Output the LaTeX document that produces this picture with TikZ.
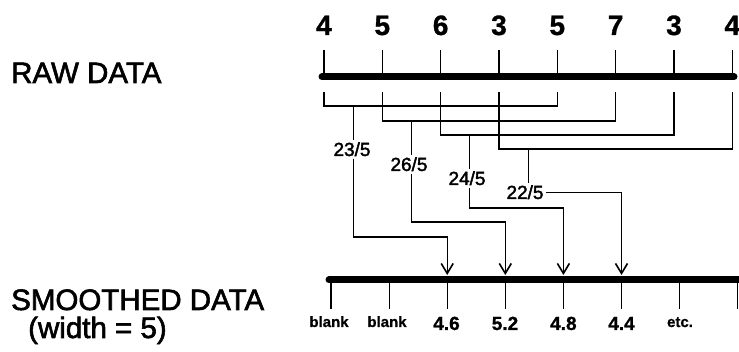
\documentclass[tikz,border=0pt]{standalone}
\usepackage{fontspec}
\setmainfont{Liberation Sans}
\newfontfamily\scanfont[FakeBold=2]{Liberation Sans}
\newfontfamily\scanbold[FakeBold=1]{Liberation Sans Bold}
\usetikzlibrary{arrows.meta}
\begin{document}
\begin{tikzpicture}[x=1pt,y=-1pt,
  thinline/.style={line width=1.2pt},
  axisline/.style={line width=7pt, line cap=round},
  arr/.style={thinline, -{Straight Barb[length=10pt,width=12pt,line width=1.6pt]}, shorten >=5pt},
  bigtitle/.style={font=\scanfont\fontsize{29.5}{31}\selectfont, anchor=base west, inner sep=0pt},
  rawnum/.style={font=\scanbold\fontsize{28}{30}\selectfont, anchor=base, inner sep=0pt},
  fracl/.style={font=\scanfont\fontsize{19}{21}\selectfont, inner sep=2.5pt},
  outnum/.style={font=\scanbold\fontsize{19}{21}\selectfont, anchor=base, inner sep=0pt},
  outword/.style={font=\scanbold\fontsize{15}{17}\selectfont, anchor=base, inner sep=0pt}
]
\useasboundingbox (0,0) rectangle (739,352);

% left titles
\node[bigtitle] (rawt) at (11,83) {RAW DATA};
\node[bigtitle] (smt) at (11,310) {SMOOTHED DATA};
\node[bigtitle] (wdt) at (28,338) {(width = 5)};

% raw data axis
\coordinate (axL) at (322,77);
\coordinate (axR) at (734,77);
\draw[axisline] (axL) -- (axR);

\foreach \i/\x/\v in {1/324/4,2/382.3/5,3/440.6/6,4/499/3,5/557.3/5,6/615.6/7,7/674/3,8/732.3/4}{
  \coordinate (t\i) at (\x,77);
  \coordinate (u\i) at (\x,50);
  \coordinate (b\i) at (\x,92);
  \node[rawnum] (n\i) at (\x,35) {\v};
  \draw[thinline] (u\i) -- (t\i);
}

% brackets
\draw[thinline] (b1) |- (b5 |- 0,106) -- (b5);
\draw[thinline] (b2) |- (b6 |- 0,121) -- (b6);
\draw[thinline] (b3) |- (b7 |- 0,135) -- (b7);
\draw[thinline] (b4) |- (b8 |- 0,149) -- (b8);

% drop points
\coordinate (d1) at (353.2,106);
\coordinate (d2) at (411.5,121);
\coordinate (d3) at (469.8,135);
\coordinate (d4) at (528.2,149);

% fraction labels
\node[fracl, anchor=base] (f1) at (352,156) {23/5};
\node[fracl, anchor=base] (f2) at (409,171) {26/5};
\node[fracl, anchor=base] (f3) at (467,185) {24/5};
\node[fracl, anchor=base] (f4) at (525,199) {22/5};

% smoothed axis
\coordinate (sxL) at (329,280);
\coordinate (sxR) at (745,280);
\draw[axisline] (sxL) -- (sxR);

\foreach \i/\x in {1/331,2/389.1,3/447.2,4/505.3,5/563.4,6/621.5,7/679.6,8/737.7}{
  \coordinate (o\i) at (\x,280);
  \coordinate (p\i) at (\x,309);
  \draw[thinline] (o\i) -- (p\i);
}

\node[outword] (l1) at (329,327) {blank};
\node[outword] (l2) at (387,327) {blank};
\node[outnum] (l3) at (446.5,330) {4.6};
\node[outnum] (l4) at (505,330) {5.2};
\node[outnum] (l5) at (563.4,330) {4.8};
\node[outnum] (l6) at (621.5,330) {4.4};
\node[outword] (l7) at (680,327) {etc.};

% connectors
\draw[thinline] (d1) -- (d1 |- f1.north);
\draw[thinline] (d2) -- (d2 |- f2.north);
\draw[thinline] (d3) -- (d3 |- f3.north);
\draw[thinline] (d4) -- (d4 |- f4.north);

\draw[arr] (d1 |- f1.south) |- (o3 |- 0,237) -- (o3);
\draw[arr] (d2 |- f2.south) |- (o4 |- 0,222) -- (o4);
\draw[arr] (d3 |- f3.south) |- (o5 |- 0,208) -- (o5);
\draw[arr] (f4.east) -| (o6);
\end{tikzpicture}
\end{document}
